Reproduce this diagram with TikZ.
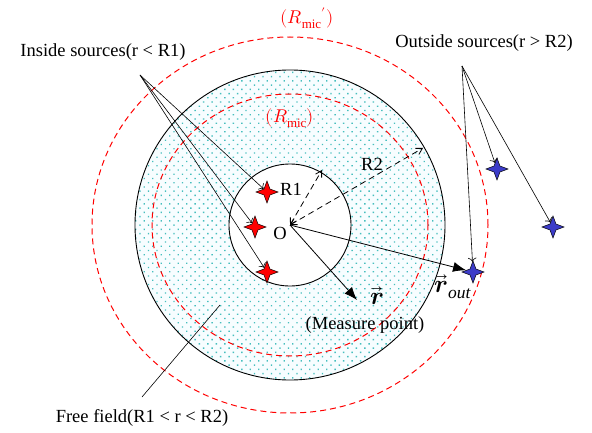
\documentclass[tikz,border=0pt]{standalone}
\usepackage{fontspec}
\usepackage{unicode-math}
\setmainfont{Liberation Serif}
\usetikzlibrary{shapes.geometric,arrows.meta,patterns.meta}
\definecolor{srcblue}{RGB}{60,60,200}
\definecolor{dotcyan}{RGB}{70,190,190}
\tikzset{
  src/.style={star, star points=4, star point ratio=2.6, minimum size=22pt, inner sep=0pt, draw=black, line width=0.5pt},
  insrc/.style={src, fill=red},
  outsrc/.style={src, fill=srcblue},
  micline/.style={red, dash pattern=on 6pt off 4pt, line width=1pt},
  radline/.style={{Straight Barb[length=6pt,width=7pt]}-{Straight Barb[length=6pt,width=7pt]}, dash pattern=on 6pt off 4pt, line width=0.8pt},
  srcline/.style={-{To[length=4pt]}, line width=0.6pt},
  vecarrow/.style={-{Latex[length=13pt,width=10pt]}, line width=0.8pt},
  lbl/.style={inner sep=0pt, font=\fontsize{18.5}{21}\selectfont},
  veclbl/.style={inner sep=0pt, font=\fontsize{25}{28}\selectfont},
}
\begin{document}
\begin{tikzpicture}[x=1pt,y=-1pt]
  \useasboundingbox (0,0) rectangle (592,433);
  \coordinate (O) at (290,225);
  % free field (dotted annulus)
  \fill[even odd rule, cyan!3] (O) circle (155pt) (O) circle (61pt);
  \fill[even odd rule, pattern={Dots[distance=6pt,radius=0.95pt,angle=45]}, pattern color=dotcyan] (O) circle (155pt) (O) circle (61pt);
  % R1 and R2 circles
  \draw[line width=0.9pt] (O) circle (155pt);
  \draw[line width=0.9pt] (O) circle (61pt);
  % microphone radii
  \draw[micline] (O) ellipse [x radius=138pt, y radius=131pt];
  \draw[micline] (O) ellipse [x radius=198pt, y radius=188pt];
  % sources
  \foreach \n/\x/\y in {ra/267/192, rb/255/227, rc/267/272} { \node[insrc] (\n) at (\x,\y) {}; }
  \foreach \n/\x/\y in {ba/497/169, bb/553/227, bc/473/272} { \node[outsrc] (\n) at (\x,\y) {}; }
  % pointers to the sources
  \coordinate (ins) at (140,75);
  \coordinate (outs) at (462,66);
  \foreach \n in {ra,rb,rc} { \draw[srcline] (ins) -- (\n); }
  \foreach \n in {ba,bb,bc} { \draw[srcline] (outs) -- (\n); }
  % radii and vectors
  \coordinate (r1end) at (322,170);
  \coordinate (r2end) at (423,148);
  \coordinate (mp) at (357,300);
  \draw[radline] (O) -- (r1end);
  \draw[radline] (O) -- (r2end);
  \draw[vecarrow] (O) -- (mp);
  \draw[vecarrow] (O) -- (bc);
  % free field pointer
  \coordinate (ffa) at (142,397);
  \coordinate (ffb) at (220,305);
  \draw[line width=0.6pt] (ffa) -- (ffb);
  % labels
  \node[lbl, red] (micout) at (307,18) {$(R_{\mathrm{mic}}{}')$};
  \node[lbl, red] (micin) at (290,118) {$(R_{\mathrm{mic}})$};
  \node[lbl] (intxt) at (103,52) {Inside sources(r < R1)};
  \node[lbl] (outtxt) at (484,43) {Outside sources(r > R2)};
  \node[lbl] (r1txt) at (291,189) {R1};
  \node[lbl] (r2txt) at (372,164) {R2};
  \node[lbl] (otxt) at (280,233) {O};
  \node[veclbl] (rtxt) at (377,296) {$\vec{\symbfit{r}}$};
  \node[veclbl] (routtxt) at (453,287) {$\vec{\symbfit{r}}_{\mathit{out}}$};
  \node[lbl] (meastxt) at (365,325) {(Measure point)};
  \node[lbl] (freetxt) at (142,418) {Free field(R1 < r < R2)};
\end{tikzpicture}
\end{document}
